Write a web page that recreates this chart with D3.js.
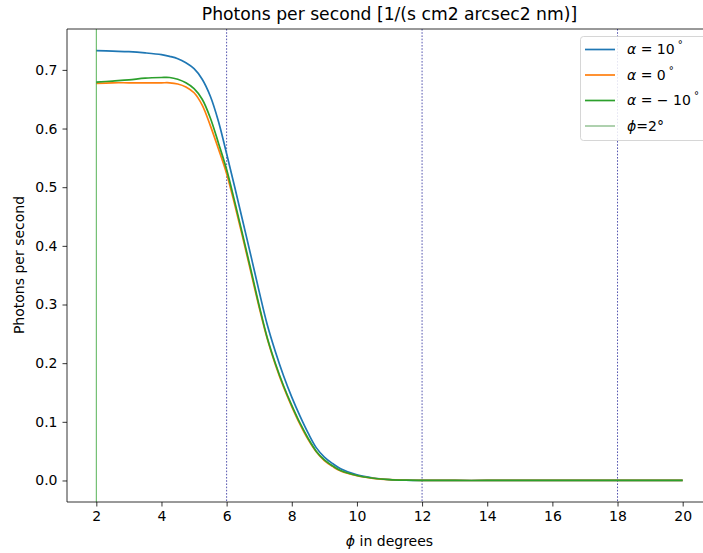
<!DOCTYPE html>
<html>
<head>
<meta charset="utf-8">
<script src="https://cdn.jsdelivr.net/npm/d3@7"></script>
<style>
  html, body { margin: 0; padding: 0; background: #fff; }
  svg { display: block; font-family: "DejaVu Sans", sans-serif; }
</style>
</head>
<body>
<svg id="chart" width="703" height="553"></svg>
<script>
// Viewing angle phi (degrees) at which the photon rate was sampled
const phi = [2, 2.5, 3, 3.5, 4, 4.25, 4.5, 4.75, 5, 5.25, 5.5, 5.75, 6, 6.25, 6.5, 6.75,
             7, 7.25, 7.5, 7.75, 8, 8.25, 8.5, 8.75, 9, 9.25, 9.5, 10, 10.5, 11, 11.5,
             12, 13, 14, 15, 16, 17, 18, 19, 20];

// Photons per second for three tilt angles alpha
const alphaPlus10 = [0.733, 0.732, 0.731, 0.729, 0.726, 0.723, 0.719, 0.712, 0.702, 0.684, 0.655, 0.612,
                     0.557, 0.500, 0.441, 0.382, 0.322, 0.265, 0.219, 0.178, 0.142, 0.110, 0.081, 0.056,
                     0.040, 0.029, 0.020, 0.0095, 0.0042, 0.0016, 0.0006, 0.0002, 0, 0, 0, 0, 0, 0, 0, 0];
const alphaZero   = [0.677, 0.678, 0.678, 0.678, 0.678, 0.678, 0.676, 0.671, 0.661, 0.640, 0.605, 0.565,
                     0.523, 0.470, 0.413, 0.354, 0.295, 0.241, 0.197, 0.159, 0.126, 0.096, 0.070, 0.049,
                     0.034, 0.024, 0.016, 0.008, 0.0036, 0.0013, 0.0005, 0.0002, 0, 0, 0, 0, 0, 0, 0, 0];
const alphaMinus10 = [0.679, 0.681, 0.683, 0.686, 0.687, 0.687, 0.684, 0.678, 0.668, 0.650, 0.618, 0.575,
                      0.530, 0.475, 0.417, 0.358, 0.298, 0.243, 0.199, 0.161, 0.128, 0.098, 0.072, 0.050,
                      0.035, 0.025, 0.017, 0.0085, 0.0038, 0.0014, 0.0005, 0.0002, 0, 0, 0, 0, 0, 0, 0, 0];

const xTicks = [2, 4, 6, 8, 10, 12, 14, 16, 18, 20];
const yTicks = [0.0, 0.1, 0.2, 0.3, 0.4, 0.5, 0.6, 0.7];
const markerAngles = [6, 12, 18];   // dashed reference angles
const startAngle = 2;               // solid reference line

const seriesColors = ["#1f77b4", "#ff7f0e", "#2ca02c"];
const seriesValues = [alphaPlus10, alphaZero, alphaMinus10];

const svg = d3.select("#chart");
const W = 703, H = 553;
const plot = { left: 67, right: 712, top: 29, bottom: 502 };
const FS = 14;

svg.append("rect").attr("width", W).attr("height", H).attr("fill", "#fff");

const x = d3.scaleLinear().domain([1.1, 20.9]).range([plot.left, plot.right]);
const y = d3.scaleLinear().domain([-0.0367, 0.7697]).range([plot.bottom, plot.top]);

const g = svg.append("g");
svg.append("clipPath").attr("id", "plotclip")
  .append("rect").attr("x", plot.left).attr("y", plot.top)
  .attr("width", plot.right - plot.left).attr("height", plot.bottom - plot.top);

const inner = g.append("g").attr("clip-path", "url(#plotclip)");

// reference verticals
inner.selectAll("line.marker").data(markerAngles).enter().append("line")
  .attr("class", "marker")
  .attr("x1", d => x(d)).attr("x2", d => x(d))
  .attr("y1", plot.top).attr("y2", plot.bottom)
  .attr("stroke", "#2a2a9a").attr("stroke-width", 0.8)
  .attr("stroke-dasharray", "1.6,1.6");

// curves
const line = d3.line()
  .x((d, i) => x(phi[i]))
  .y(d => y(d))
  .curve(d3.curveCatmullRom.alpha(0.5));

seriesValues.forEach((vals, k) => {
  inner.append("path")
    .attr("d", line(vals))
    .attr("fill", "none")
    .attr("stroke", seriesColors[k])
    .attr("stroke-width", 1.7)
    .attr("stroke-linejoin", "round");
});

inner.append("line")
  .attr("x1", x(startAngle)).attr("x2", x(startAngle))
  .attr("y1", plot.top).attr("y2", plot.bottom)
  .attr("stroke", "#2ca02c").attr("stroke-width", 0.8);

// axes
const xAxis = d3.axisBottom(x).tickValues(xTicks).tickSize(4.5).tickPadding(5)
  .tickFormat(d3.format("d"));
const yAxis = d3.axisLeft(y).tickValues(yTicks).tickSize(4.5).tickPadding(5)
  .tickFormat(d3.format(".1f"));

const gx = g.append("g").attr("transform", `translate(0,${plot.bottom})`).call(xAxis);
const gy = g.append("g").attr("transform", `translate(${plot.left},0)`).call(yAxis);
[gx, gy].forEach(a => {
  a.select(".domain").remove();
  a.selectAll("line").attr("stroke", "#000").attr("stroke-width", 0.8);
  a.selectAll("text").attr("font-size", FS).attr("fill", "#000")
    .attr("font-family", "DejaVu Sans, sans-serif");
});

// spines
g.append("line").attr("x1", plot.left).attr("x2", plot.left)
  .attr("y1", plot.top).attr("y2", plot.bottom).attr("stroke", "#000").attr("stroke-width", 0.8);
g.append("line").attr("x1", plot.left).attr("x2", plot.right)
  .attr("y1", plot.bottom).attr("y2", plot.bottom).attr("stroke", "#000").attr("stroke-width", 0.8);
g.append("line").attr("x1", plot.left).attr("x2", plot.right)
  .attr("y1", plot.top).attr("y2", plot.top).attr("stroke", "#000").attr("stroke-width", 0.8);

// title and axis labels
svg.append("text").attr("x", 389.5).attr("y", 20).attr("text-anchor", "middle")
  .attr("font-size", 17.2).text("Photons per second [1/(s cm2 arcsec2 nm)]");

const xl = svg.append("text").attr("x", 389.5).attr("y", 546).attr("text-anchor", "middle")
  .attr("font-size", FS);
xl.append("tspan").attr("font-style", "italic").text("ϕ");
xl.append("tspan").text(" in degrees");

svg.append("text").attr("transform", `translate(24,265) rotate(-90)`)
  .attr("text-anchor", "middle").attr("font-size", FS).text("Photons per second");

// legend
const lg = svg.append("g").attr("transform", "translate(580,36)");
lg.append("rect").attr("x", 0.5).attr("y", 0.5).attr("width", 140).attr("height", 104)
  .attr("rx", 3).attr("fill", "#fff").attr("fill-opacity", 0.85)
  .attr("stroke", "#cccccc").attr("stroke-width", 0.8);

const legendRows = [
  { color: seriesColors[0], width: 1.7, parts: [["α", "i"], [" = 10", ""], ["°", "s"]] },
  { color: seriesColors[1], width: 1.7, parts: [["α", "i"], [" = 0", ""], ["°", "s"]] },
  { color: seriesColors[2], width: 1.7, parts: [["α", "i"], [" = − 10", ""], ["°", "s"]] },
  { color: "#5fa35f", width: 1.0, parts: [["ϕ", "i"], ["=2°", ""]] }
];
legendRows.forEach((r, i) => {
  const cy = 13 + i * 25.5;
  lg.append("line").attr("x1", 5).attr("x2", 35).attr("y1", cy + 0.5).attr("y2", cy + 0.5)
    .attr("stroke", r.color).attr("stroke-width", r.width);
  const t = lg.append("text").attr("x", 47).attr("y", cy + 5).attr("font-size", FS)
    .attr("xml:space", "preserve");
  r.parts.forEach(p => {
    const ts = t.append("tspan").text(p[0]);
    if (p[1] === "i") ts.attr("font-style", "italic");
    if (p[1] === "s") ts.attr("font-size", 10).attr("dy", -6).attr("dx", 3);
  });
});
</script>
</body>
</html>
